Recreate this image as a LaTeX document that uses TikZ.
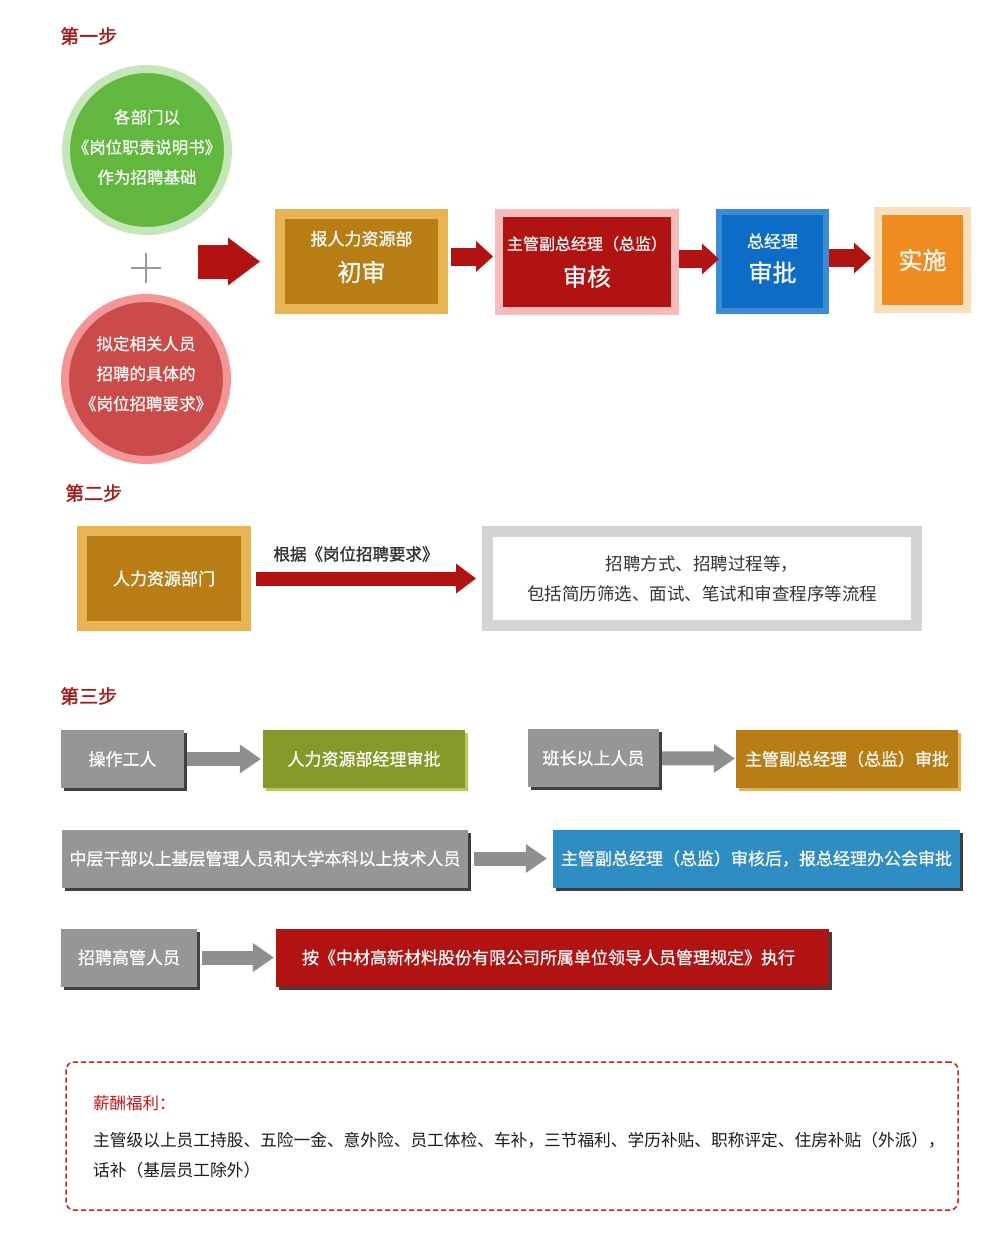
\documentclass[tikz,border=0pt]{standalone}
\usepackage{fontspec}
\setmainfont{Noto Sans CJK SC}
\newfontfamily\boldcjk[FakeBold=1.5]{Noto Sans CJK SC}
\newfontfamily\boxcjk[FakeBold=0.6]{Noto Sans CJK SC}
\usetikzlibrary{arrows.meta,shadows}
\definecolor{steptitle}{HTML}{A31D1D}
\definecolor{greenlt}{HTML}{C5E6B8}
\definecolor{greendk}{HTML}{62B83F}
\definecolor{redlt}{HTML}{F49696}
\definecolor{reddk}{HTML}{CB4B4B}
\definecolor{goldlt}{HTML}{E8B453}
\definecolor{golddk}{HTML}{B87E15}
\definecolor{pinklt}{HTML}{F7BBBB}
\definecolor{boxred}{HTML}{B11212}
\definecolor{bluelt}{HTML}{3A8AD4}
\definecolor{bluedk}{HTML}{0C6CC6}
\definecolor{orglt}{HTML}{F9DEBC}
\definecolor{orgdk}{HTML}{EE8C1F}
\definecolor{framegray}{HTML}{D4D4D4}
\definecolor{boxgray}{HTML}{969696}
\definecolor{shdark}{HTML}{404040}
\definecolor{olive}{HTML}{839A29}
\definecolor{olivelt}{HTML}{B7CB56}
\definecolor{goldsh}{HTML}{E1B557}
\definecolor{bluebox}{HTML}{2E8DC3}
\definecolor{arrgray}{HTML}{8F8F8F}
\definecolor{plusc}{HTML}{999999}
\definecolor{txtdark}{HTML}{333333}
\definecolor{dashred}{HTML}{D01C1C}
\definecolor{perkred}{HTML}{C01818}
\definecolor{txtblack}{HTML}{1A1A1A}
\begin{document}
\begin{tikzpicture}[x=1pt, y=-1pt,
  every node/.style={text=white, inner sep=0pt, font=\boxcjk\fontsize{17}{22}\selectfont},
  steplabel/.style={text=steptitle, anchor=west, font=\boldcjk\fontsize{19}{22}\selectfont},
  ring/.style={circle, draw=#1, line width=8pt, inner sep=-12pt, minimum size=162pt, align=center, font=\boxcjk\fontsize{16.5}{30}\selectfont},
  stepbox/.style={rectangle, draw=#1, align=center},
  flow/.style={rectangle, fill=#1, minimum height=58pt},
  shadowed/.style={drop shadow={shadow xshift=3pt, shadow yshift=-3pt, fill=#1, opacity=1}},
  bigarr/.style={draw=boxred, line width=34pt, -{Triangle[length=32pt, width=48pt, line width=0pt]}},
  redarr/.style={draw=boxred, line width=18pt, -{Triangle[length=17pt, width=31pt, line width=0pt]}},
  hrarr/.style={draw=boxred, line width=14pt, -{Triangle[length=20pt, width=30pt, line width=0pt]}},
  grayarr/.style={draw=arrgray, line width=14pt, -{Triangle[length=21pt, width=29pt, line width=0pt]}},
  big/.style={font=\boxcjk\fontsize{24}{24}\selectfont}]
\useasboundingbox (0,0) rectangle (983,1245);

\node [steplabel] (s1) at (60,36) {第一步};
\node [ring=greenlt, fill=greendk, text depth=7pt] (gc) at (147,150) {各部门以\\《岗位职责说明书》\\作为招聘基础};
\node [ring=redlt, fill=reddk, text depth=12pt] (rc) at (146,379) {拟定相关人员\\招聘的具体的\\《岗位招聘要求》};
\draw [plusc, line width=2pt] (131,268) -- (161,268) (146,253) -- (146,283);
\coordinate (joint) at (198,261.5);
\node [stepbox=goldlt, fill=golddk, line width=10pt, minimum width=163pt, minimum height=95pt, text depth=11pt] (b1) at (361.5,261.5) {报人力资源部\\[14pt]{\fontsize{24}{24}\selectfont 初审}};
\node [stepbox=pinklt, fill=boxred, line width=8pt, minimum width=176pt, minimum height=98pt] (b2) at (587,262) {{\fontsize{16}{20}\selectfont 主管副总经理（总监）}\\[14pt]{\fontsize{24}{24}\selectfont 审核}};
\node [stepbox=bluelt, fill=bluedk, line width=6pt, minimum width=107pt, minimum height=99pt, text depth=8pt] (b3) at (772.5,261.5) {总经理\\[12pt]{\fontsize{24}{24}\selectfont 审批}};
\node [stepbox=orglt, fill=orgdk, line width=8pt, minimum width=89pt, minimum height=98pt, big] (b4) at (922.5,260) {实施};
\draw [bigarr, shorten >=15pt] (joint) -- (b1.west);
\draw [redarr, shorten <=3pt, shorten >=2pt] ([yshift=5pt]b1.east) -- ([yshift=5pt]b1.east -| b2.west);
\draw [redarr, shorten >=-3pt] ([yshift=3pt]b2.east) -- ([yshift=3pt]b2.east -| b3.west);
\draw [redarr, shorten >=3pt] ([yshift=3.5pt]b3.east) -- ([yshift=3.5pt]b3.east -| b4.west);

\node [steplabel] (s2) at (65,493) {第二步};
\node [stepbox=goldlt, fill=golddk, line width=10pt, minimum width=164pt, minimum height=95pt] (hr) at (164,578.5) {人力资源部门};
\node [stepbox=framegray, fill=white, line width=11pt, minimum width=429pt, minimum height=94pt, text=txtdark, font=\fontsize{17.5}{30}\selectfont] (proc) at (702,578.5) {招聘方式、招聘过程等，\\包括简历筛选、面试、笔试和审查程序等流程};
\draw [hrarr, shorten <=5pt, shorten >=6pt] (hr) -- (proc);
\node [text=txtdark, font=\boldcjk\fontsize{16.5}{20}\selectfont] (basis) at (356,554) {根据《岗位招聘要求》};

\node [steplabel] (s3) at (60,696) {第三步};
\node [flow=boxgray, shadowed=shdark, minimum width=123pt] (op) at (122.5,759) {操作工人};
\node [flow=olive, shadowed=olivelt, minimum width=202pt] (hrm) at (364,759) {人力资源部经理审批};
\node [flow=boxgray, shadowed=shdark, minimum width=131pt] (bz) at (593.5,758) {班长以上人员};
\node [flow=golddk, shadowed=goldsh, minimum width=222pt] (vp1) at (847,759) {主管副总经理（总监）审批};
\node [flow=boxgray, shadowed=shdark, minimum width=406pt] (mid) at (265,858.5) {中层干部以上基层管理人员和大学本科以上技术人员};
\node [flow=bluebox, shadowed=shdark, minimum width=407pt] (vp2) at (756.5,858.5) {主管副总经理（总监）审核后，报总经理办公会审批};
\node [flow=boxgray, shadowed=shdark, minimum width=136pt] (gg) at (129,957.5) {招聘高管人员};
\node [flow=boxred, shadowed=shdark, minimum width=553pt, text width=501pt, align=left] (rule) at (552.5,957.5) {按《中材高新材料股份有限公司所属单位领导人员管理规定》执行};
\draw [grayarr, shorten <=3pt, shorten >=2pt] (op) -- (hrm);
\draw [grayarr, shorten <=3pt, shorten >=1pt] (bz) -- (vp1);
\draw [grayarr, shorten <=6pt, shorten >=6pt] (mid) -- (vp2);
\draw [grayarr, shorten <=5pt, shorten >=2pt] (gg) -- (rule);

\node [draw=dashred, line width=1.5pt, dash pattern=on 5pt off 3pt, rounded corners=8pt, minimum width=892pt, minimum height=148pt] (perk) at (512,1136) {};
\node [text=perkred, anchor=west, font=\fontsize{16.5}{20}\selectfont] (perkt) at (93,1103) {薪酬福利：};
\node [text=txtblack, anchor=west, font=\fontsize{16.7}{20}\selectfont] (perk1) at (93,1140) {主管级以上员工持股、五险一金、意外险、员工体检、车补，三节福利、学历补贴、职称评定、住房补贴（外派），};
\node [text=txtblack, anchor=west, font=\fontsize{16.7}{20}\selectfont] (perk2) at (93,1170) {话补（基层员工除外）};
\end{tikzpicture}
\end{document}
